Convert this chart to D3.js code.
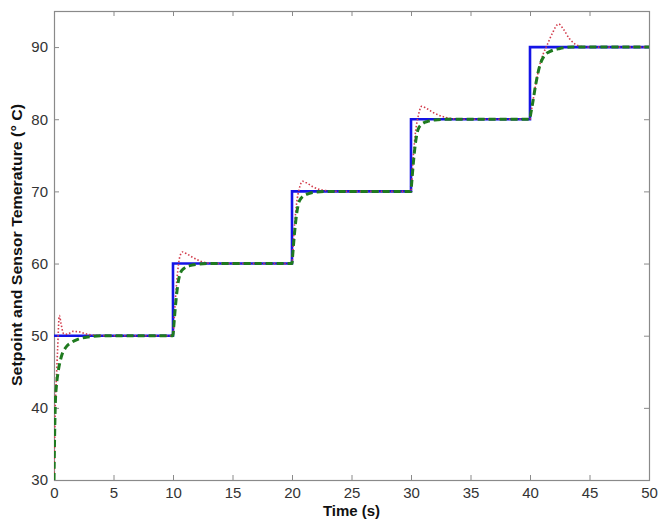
<!DOCTYPE html>
<html>
<head>
<meta charset="utf-8">
<script src="https://cdn.jsdelivr.net/npm/d3@7"></script>
<style>
  html, body { margin: 0; padding: 0; background: #fff; }
  svg { display: block; }
  .tick text { font-family: "Liberation Sans", Arial, sans-serif; font-size: 15px; fill: #333; }
  .ttl { font-family: "Liberation Sans", Arial, sans-serif; font-size: 15px; font-weight: bold; fill: #111; }
</style>
</head>
<body>
<svg id="chart" width="658" height="523"></svg>
<script>
// Setpoint schedule (°C), held constant after each switch time
const setpointTime = [0, 10, 20, 30, 40, 50];
const setpointTemp = [50, 60, 70, 80, 90, 90];

// Sensor response, controller A (dotted red)
const sensorATime = [0, 0.06, 0.12, 0.2, 0.3, 0.45, 0.6, 0.8, 1.1, 1.6, 2.2, 2.8, 3.5, 4.5, 10,
  10.05, 10.2, 10.4, 10.55, 10.8, 11.1, 11.6, 12.2, 12.8, 13.5, 20,
  20.05, 20.2, 20.4, 20.6, 20.9, 21.3, 21.8, 22.5, 23.3, 24, 30,
  30.05, 30.2, 30.4, 30.6, 30.9, 31.3, 31.9, 32.6, 33.4, 34.2, 40,
  40.05, 40.2, 40.5, 40.8, 41.1, 41.5, 41.9, 42.4, 42.8, 43.3, 43.8, 44.4, 45, 50];
const sensorATemp = [30, 36, 41, 44, 48, 52.8, 51.6, 50.3, 50.2, 50.6, 50.5, 50.2, 50.05, 50, 50,
  51, 55, 59, 60.8, 61.6, 61.4, 60.9, 60.4, 60.1, 60, 60,
  61, 65, 68.5, 70.3, 71.4, 71.1, 70.6, 70.2, 70.05, 70, 70,
  71, 75, 78.5, 80.4, 81.8, 81.5, 80.9, 80.4, 80.1, 80, 80,
  80.5, 82, 85, 87.4, 89, 90.5, 92, 93.2, 92.5, 91.2, 90.4, 90.05, 90, 90];

// Sensor response, controller B (dashed green)
const sensorBTime = [0, 0.05, 0.12, 0.2, 0.35, 0.6, 1.0, 1.5, 2, 3, 4, 10,
  10.05, 10.2, 10.4, 10.6, 10.9, 11.4, 12, 13, 20,
  20.05, 20.2, 20.4, 20.6, 20.9, 21.4, 22, 23, 30,
  30.05, 30.2, 30.4, 30.6, 30.9, 31.4, 32, 33, 40,
  40.05, 40.2, 40.5, 40.8, 41.2, 41.7, 42.5, 43.5, 50];
const sensorBTemp = [30, 36, 41, 43, 45, 47, 48.4, 49.1, 49.5, 49.85, 50, 50,
  51, 54, 57, 58.6, 59.3, 59.7, 59.9, 60, 60,
  61, 64, 67, 68.6, 69.3, 69.7, 69.9, 70, 70,
  71, 74, 77, 78.6, 79.3, 79.7, 79.9, 80, 80,
  80.6, 82, 85, 87.3, 88.8, 89.4, 89.8, 90, 90];

const xTicks = [0, 5, 10, 15, 20, 25, 30, 35, 40, 45, 50];
const yTicks = [30, 40, 50, 60, 70, 80, 90];

const m = { left: 54, top: 11, right: 9, bottom: 43 };
const W = 658, H = 523;
const svg = d3.select("#chart");

const x = d3.scaleLinear().domain([0, 50]).range([m.left, W - m.right]);
const y = d3.scaleLinear().domain([30, 95]).range([H - m.bottom, m.top]);

svg.append("clipPath").attr("id", "clip").append("rect")
  .attr("x", m.left).attr("y", m.top)
  .attr("width", W - m.left - m.right).attr("height", H - m.top - m.bottom);

const axisColor = "#8a8a8a";
function styleAxis(g) {
  g.select(".domain").remove();
  g.selectAll(".tick line").attr("stroke", axisColor).attr("stroke-width", 1);
}

// bottom / left axes with inward ticks and labels
svg.append("g").attr("transform", `translate(0,${H - m.bottom})`)
  .call(d3.axisBottom(x).tickValues(xTicks).tickSize(-5).tickPadding(7).tickFormat(d3.format("d")))
  .call(styleAxis);
svg.append("g").attr("transform", `translate(${m.left},0)`)
  .call(d3.axisLeft(y).tickValues(yTicks).tickSize(-5).tickPadding(6).tickFormat(d3.format("d")))
  .call(styleAxis);
// top / right axes: ticks only
svg.append("g").attr("transform", `translate(0,${m.top})`)
  .call(d3.axisTop(x).tickValues(xTicks).tickSize(-5).tickFormat(""))
  .call(styleAxis);
svg.append("g").attr("transform", `translate(${W - m.right},0)`)
  .call(d3.axisRight(y).tickValues(yTicks).tickSize(-5).tickFormat(""))
  .call(styleAxis);

// box
svg.append("rect")
  .attr("x", m.left + 0.5).attr("y", m.top + 0.5)
  .attr("width", W - m.left - m.right).attr("height", H - m.top - m.bottom)
  .attr("fill", "none").attr("stroke", axisColor).attr("stroke-width", 1.2);

const lines = svg.append("g").attr("clip-path", "url(#clip)");

const stepLine = d3.line().curve(d3.curveStepAfter)
  .x((d, i) => x(setpointTime[i])).y(d => y(d));
const smoothLine = times => d3.line().curve(d3.curveMonotoneX)
  .x((d, i) => x(times[i])).y(d => y(d));

lines.append("path").datum(setpointTemp)
  .attr("d", stepLine)
  .attr("fill", "none").attr("stroke", "#1414e6").attr("stroke-width", 2.6);

lines.append("path").datum(sensorATemp)
  .attr("d", smoothLine(sensorATime))
  .attr("fill", "none").attr("stroke", "#d23a4a").attr("stroke-width", 1.6)
  .attr("stroke-dasharray", "1.5,2");

lines.append("path").datum(sensorBTemp)
  .attr("d", smoothLine(sensorBTime))
  .attr("fill", "none").attr("stroke", "#1f7a1f").attr("stroke-width", 3)
  .attr("stroke-dasharray", "7,4");

// axis titles
svg.append("text").attr("class", "ttl")
  .attr("x", x(25)).attr("y", 516).attr("text-anchor", "middle")
  .text("Time (s)");
svg.append("text").attr("class", "ttl")
  .attr("transform", `translate(22,245) rotate(-90)`)
  .attr("text-anchor", "middle")
  .attr("textLength", 282).attr("lengthAdjust", "spacingAndGlyphs")
  .text("Setpoint and Sensor Temerature (° C)");
</script>
</body>
</html>
